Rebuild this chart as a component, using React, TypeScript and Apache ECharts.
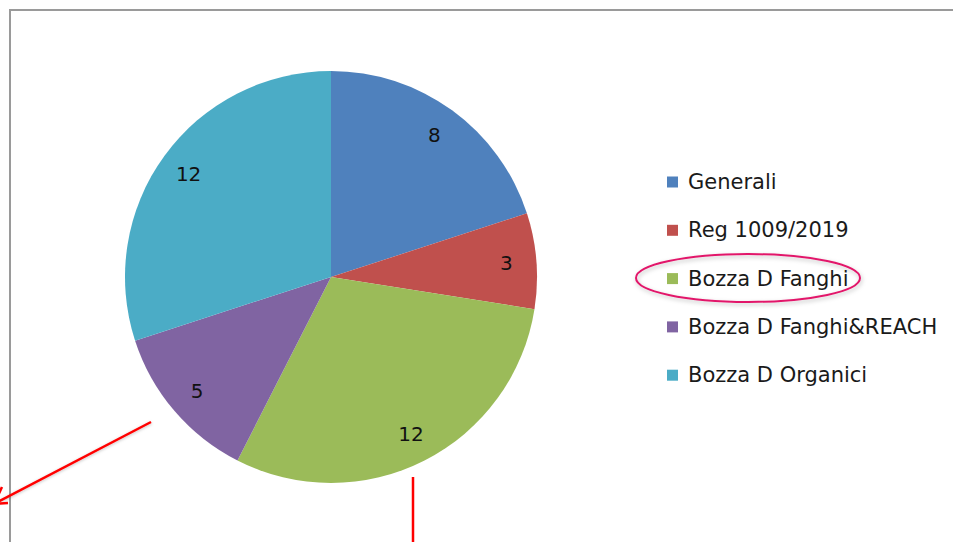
import React, { useEffect, useRef } from "react";
import * as echarts from "echarts";

const categories = ["Generali", "Reg 1009/2019", "Bozza D Fanghi", "Bozza D Fanghi&REACH", "Bozza D Organici"];
const values = [8, 3, 12, 5, 12];
const colors = ["#4F81BD", "#C0504D", "#9BBB59", "#8064A2", "#4BACC6"];

const FONT = "'DejaVu Sans', sans-serif";

export default function App() {
  const ref = useRef<HTMLDivElement>(null);
  useEffect(() => {
    if (!ref.current) return;
    const chart = echarts.init(ref.current, undefined, { renderer: "svg" });
    const data = categories.map((name, i) => ({ name, value: values[i], itemStyle: { color: colors[i] } }));
    chart.setOption({
      animation: false,
      backgroundColor: "#ffffff",
      legend: {
        orient: "vertical",
        left: 667,
        top: 171,
        padding: 0,
        itemWidth: 11,
        itemHeight: 11,
        itemGap: 26.3,
        icon: "rect",
        data: categories,
        selectedMode: false,
        textStyle: { fontFamily: FONT, fontSize: 21, color: "#1a1a1a", lineHeight: 22, padding: [0, 0, 0, 5] },
      },
      series: [
        {
          type: "pie",
          center: [331, 277],
          radius: [0, 206],
          startAngle: 90,
          clockwise: true,
          data,
          label: { show: false },
          labelLine: { show: false },
          itemStyle: { borderWidth: 0 },
          emphasis: { disabled: true },
          silent: true,
        },
        {
          type: "pie",
          center: [331, 277],
          radius: [140, 206],
          startAngle: 90,
          clockwise: true,
          data: categories.map((name, i) => ({ name, value: values[i] })),
          itemStyle: { color: "rgba(0,0,0,0)", borderWidth: 0 },
          label: { show: true, position: "inside", fontFamily: FONT, fontSize: 20, color: "#111111", formatter: "{c}" },
          labelLine: { show: false },
          emphasis: { disabled: true },
          silent: true,
        },
      ],
      graphic: [
        {
          type: "rect",
          shape: { x: 10, y: 10, width: 980, height: 580 },
          style: { fill: "none", stroke: "#9a9a9a", lineWidth: 2 },
          silent: true,
        },
        {
          type: "ellipse",
          shape: { cx: 748, cy: 278, rx: 112, ry: 24 },
          style: { fill: "none", stroke: "#E2196B", lineWidth: 2, shadowBlur: 4, shadowColor: "rgba(0,0,0,0.25)", shadowOffsetX: 1, shadowOffsetY: 2 },
          silent: true,
        },
        {
          type: "line",
          shape: { x1: 151, y1: 422, x2: -6, y2: 504 },
          style: { stroke: "#FF0000", lineWidth: 2.5, shadowBlur: 3, shadowColor: "rgba(0,0,0,0.25)", shadowOffsetY: 1 },
          silent: true,
        },
        {
          type: "polyline",
          shape: { points: [[8, 503], [-6, 504], [2, 487]] },
          style: { fill: "none", stroke: "#FF0000", lineWidth: 2.5 },
          silent: true,
        },
        {
          type: "line",
          shape: { x1: 413, y1: 477, x2: 413, y2: 560 },
          style: { stroke: "#FF0000", lineWidth: 2.5 },
          silent: true,
        },
      ],
    });
    return () => chart.dispose();
  }, []);
  return <div ref={ref} style={{ position: "fixed", left: 0, top: 0, width: 953, height: 542 }} />;
}
